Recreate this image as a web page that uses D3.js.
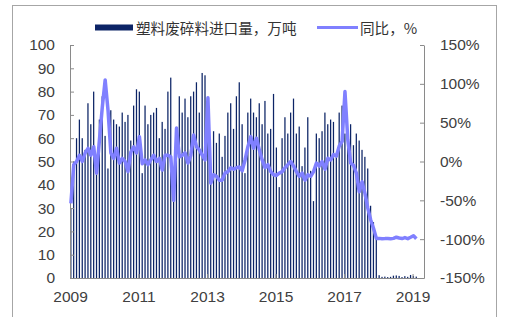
<!DOCTYPE html>
<html lang="zh">
<head>
<meta charset="UTF-8">
<title>塑料废碎料进口量</title>
<script src="https://cdnjs.cloudflare.com/ajax/libs/d3/7.8.5/d3.min.js"></script>
<style>
    body { margin: 0; background: #fff; }
    svg { display: block; }
    .tick text { font-family: "Liberation Sans", Arial, sans-serif; font-size: 15.5px; fill: #404040; }
    .axis path, .axis line { stroke: #8a8a8a; }
    .legend text { font-family: "Noto Sans CJK SC", sans-serif; font-size: 14.6px; fill: #333; }
</style>
</head>
<body>
<svg id="chart" width="510" height="317"></svg>
<script>
// monthly data, Jan 2009 - Feb 2019
const startYear = 2009;
const yearTicks = [2009, 2011, 2013, 2015, 2017, 2019];

// 塑料废碎料进口量，万吨
const imports = [
    30, 50, 60, 68, 60, 55, 75, 66, 80, 50, 68, 78,
    61, 47, 72, 68, 66, 65, 71, 67, 70, 59, 74, 81,
    80, 45, 74, 66, 70, 71, 73, 60, 67, 64, 80, 86,
    42, 63, 78, 71, 77, 69, 78, 80, 84, 71, 88, 87,
    77, 45, 63, 58, 62, 52, 61, 71, 75, 64, 78, 84,
    66, 45, 71, 77, 71, 69, 75, 66, 76, 62, 64, 79,
    56, 39, 60, 69, 62, 71, 77, 62, 65, 48, 56, 69,
    46, 33, 62, 60, 63, 71, 66, 68, 67, 52, 71, 74,
    62, 60, 66, 57, 62, 59, 55, 52, 47, 31, 24, 18,
    1.2, 0.5, 0.6, 0.4, 0.5, 1.0, 1.1, 0.9, 0.4, 0.8, 0.5, 1.3,
    0.9, 0.6
];

// 同比，%
const yoy = [
    -54, -4, 0, 8, 0, 11, 17, 8, 19, -15, 28, 70,
    105, 66, 11, 4, 17, -2, 4, 0, -13, 12, 19, 11,
    32, -3, 2, -4, 2, 8, 0, 4, -11, 8, 8, 6,
    -50, 43, 6, 8, 11, -2, 8, 34, 19, 15, 8, 2,
    82, -28, -17, -19, -24, -24, -15, -13, -8, -10, -8, -7,
    -12, 2, 19, 32, 17, 30, 15, 2, -8, -4, -13, -17,
    -18, -15, -13, -8, -4, 0, -6, -13, -19, -15, -24, -17,
    -19, -13, -2, -6, 0, -10, 4, 2, 9, 7, 20, 26,
    90, 28, -2, -5, -15, -39, -26, -41, -60, -75, -86, -99,
    -99, -99.5, -99.3, -99.2, -99.5, -99, -97.5, -98.5, -99.2, -98, -99.3, -97.5,
    -95.5, -99.5
];

const leftTicks = [0, 10, 20, 30, 40, 50, 60, 70, 80, 90, 100];
const rightTicks = [-150, -100, -50, 0, 50, 100, 150];

const svg = d3.select("#chart");
const m = {left: 70, right: 424, top: 45, bottom: 278};

// outer frame
svg.append("rect")
    .attr("x", 12.5).attr("y", 5.5)
    .attr("width", 484).attr("height", 330)
    .attr("fill", "none").attr("stroke", "#a6a6a6");

const x = d3.scaleLinear().domain([0, 124]).range([m.left, m.right]);
const y = d3.scaleLinear().domain([0, 100]).range([m.bottom, m.top]);
const y2 = d3.scaleLinear().domain([-150, 150]).range([m.bottom, m.top]);

// bars
svg.append("g").selectAll("rect")
    .data(imports)
    .enter().append("rect")
    .attr("x", (d, i) => x(i) + 0.2)
    .attr("y", d => y(d))
    .attr("width", 1.25)
    .attr("height", d => y(0) - y(d))
    .attr("fill", "#0c2466");

// axes
svg.append("g")
    .attr("class", "axis")
    .attr("transform", `translate(${m.left},0)`)
    .call(d3.axisLeft(y).tickValues(leftTicks).tickSizeInner(-4).tickSizeOuter(0).tickPadding(15));

svg.append("g")
    .attr("class", "axis")
    .attr("transform", `translate(${m.right},0)`)
    .call(d3.axisRight(y2).tickValues(rightTicks).tickFormat(d => d + "%")
        .tickSizeInner(-4).tickSizeOuter(0).tickPadding(16));

svg.append("g")
    .attr("class", "axis")
    .attr("transform", `translate(0,${m.bottom})`)
    .call(d3.axisBottom(x).tickValues(yearTicks.map(yr => (yr - startYear) * 12))
        .tickFormat((d) => startYear + d / 12)
        .tickSizeInner(-4).tickSizeOuter(0).tickPadding(13));

// yoy line
const line = d3.line()
    .x((d, i) => x(i) + 0.9)
    .y(d => y2(d));

svg.append("path")
    .datum(yoy)
    .attr("d", line)
    .attr("fill", "none")
    .attr("stroke", "#8080ff")
    .attr("stroke-width", 3.5)
    .attr("stroke-linejoin", "round");

// legend
const lg = svg.append("g").attr("class", "legend");
lg.append("rect")
    .attr("x", 95).attr("y", 24.5)
    .attr("width", 38).attr("height", 6)
    .attr("fill", "#0c2466");
lg.append("text")
    .attr("x", 136).attr("y", 27.5)
    .attr("dominant-baseline", "central")
    .text("塑料废碎料进口量，万吨");
lg.append("line")
    .attr("x1", 317).attr("x2", 358)
    .attr("y1", 27.5).attr("y2", 27.5)
    .attr("stroke", "#8080ff").attr("stroke-width", 3);
lg.append("text")
    .attr("x", 360).attr("y", 27.5)
    .attr("dominant-baseline", "central")
    .text("同比，%");
</script>
</body>
</html>
